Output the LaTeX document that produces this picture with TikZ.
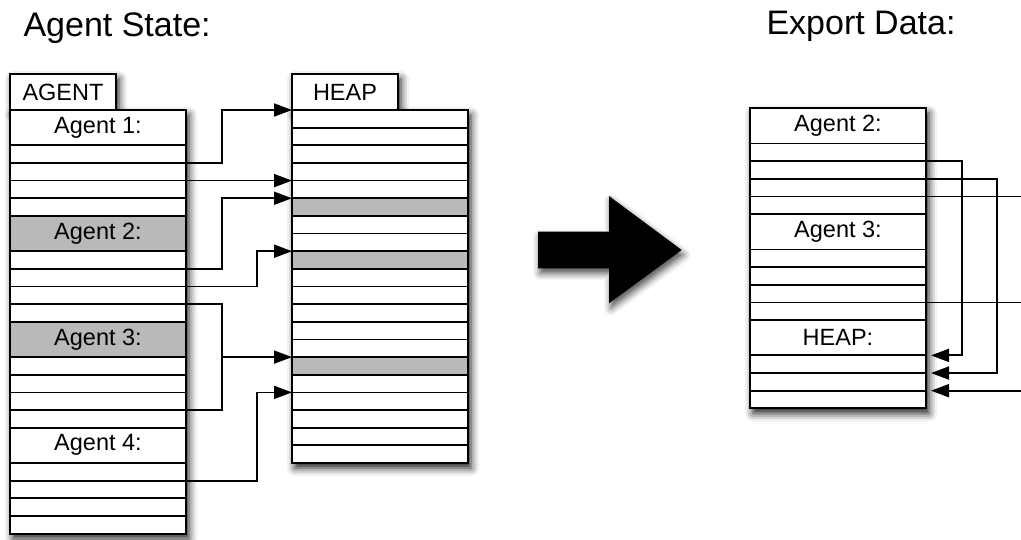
\documentclass[tikz,border=0pt]{standalone}
\usepackage{fontspec}
\setmainfont{Liberation Sans}
\usetikzlibrary{arrows.meta, positioning, shadows.blur}

\begin{document}
\begin{tikzpicture}[x=1pt, y=-1pt,
    cell/.style={rectangle, draw, line width=1.8pt, fill=white, inner sep=0pt, outer sep=0pt,
                 anchor=north west, minimum width=176pt, minimum height=17.65pt},
    head cell/.style={cell, minimum height=35.3pt, font=\fontsize{23.5}{26}\selectfont},
    tab/.style={cell, minimum width=106pt, minimum height=36pt, font=\fontsize{23.5}{26}\selectfont},
    shade box/.style={fill=white,
                 blur shadow={shadow xshift=3pt, shadow yshift=-5pt, shadow blur radius=8pt, shadow opacity=90}},
    ptr/.style={-{Triangle[length=18pt,width=13pt,fill=black]}, line width=1.8pt},
    title/.style={anchor=base west, font=\fontsize{34}{40}\selectfont}]

  \useasboundingbox (0,0) rectangle (1021,540);
  \clip (0,0) rectangle (1021,540);

  \node[title] (lefttitle) at (20,36.7) {Agent State:};
  \node[title] (righttitle) at (763,35) {Export Data:};

  % soft shadows under the tables
  \path[shade box] (10,74) rectangle (116,110);
  \path[shade box] (10,110) rectangle (186,533.6);
  \path[shade box] (292,74) rectangle (398,110);
  \path[shade box] (292,110) rectangle (468,463);
  \path[shade box] (750,108.3) rectangle (926,408.4);

  % agent table, six rows per agent
  \node[tab] (agtab) at (10,74) {AGENT};
  \foreach \lab/\fil [count=\b from 0] in {Agent 1:/white, Agent 2:/gray!55, Agent 3:/gray!55, Agent 4:/white} {
    \pgfmathtruncatemacro\top{6*\b}
    \node[head cell, fill=\fil] (ag\b) at (10,{110+\top*17.65}) {\lab};
    \foreach \r in {2,...,5} {
      \pgfmathtruncatemacro\k{6*\b+\r}
      \node[cell] (a\k) at (10,{110+\k*17.65}) {};
    }
  }

  % heap
  \node[tab] (hptab) at (292,74) {HEAP};
  \foreach \k in {0,...,19} {
    \ifnum\k=5 \def\fil{gray!55}\else\ifnum\k=8 \def\fil{gray!55}\else
      \ifnum\k=14 \def\fil{gray!55}\else\def\fil{white}\fi\fi\fi
    \node[cell, fill=\fil] (h\k) at (292,{110+\k*17.65}) {};
  }

  % export table
  \foreach \lab/\n [count=\b from 0] in {Agent 2:/5, Agent 3:/5, HEAP:/4} {
    \pgfmathtruncatemacro\top{6*\b}
    \node[head cell] (xg\b) at (750,{108.3+\top*17.65}) {\lab};
    \foreach \r in {2,...,\n} {
      \pgfmathtruncatemacro\k{6*\b+\r}
      \node[cell] (x\k) at (750,{108.3+\k*17.65}) {};
    }
  }

  % pointers into the heap
  \draw[ptr] (a3.north east) -- ++(36,0) |- (h0.north west);
  \draw[ptr] (a4.north east) -- (h4.north west);
  \draw[ptr] (a9.north east) -- ++(36,0) |- (h5.north west);
  \draw[ptr] (a10.north east) -- ++(71,0) |- (h8.north west);
  \coordinate (brk) at ([xshift=36pt]a11.north east);
  \draw[line width=1.8pt] (a11.north east) -- (brk) |- (a17.north east);
  \draw[ptr] (brk |- h14.north west) -- (h14.north west);
  \draw[ptr] (a21.north east) -- ++(71,0) |- (h16.north west);

  % big arrow
  \fill[blur shadow={shadow xshift=2pt, shadow yshift=-5pt, shadow blur radius=7pt, shadow opacity=70}]
    (538,231.7) -- (609,231.7) -- (609,196) -- (681.7,250) -- (609,303.3) -- (609,268.3) -- (538,268.3) -- cycle;

  % pointers in the exported block
  \coordinate (farright) at (1040,0);
  \draw[ptr, shorten >=5pt] (x3.north east) -- ++(36,0) |- (x14.north east);
  \draw[ptr, shorten >=5pt] (x4.north east) -- ++(71,0) |- (x15.north east);
  \draw[line width=1.8pt] (x5.north east) -- (x5.north east -| farright) |- (x11.north east);
  \draw[ptr, shorten >=5pt] (x16.north east -| farright) -- (x16.north east);

\end{tikzpicture}
\end{document}
